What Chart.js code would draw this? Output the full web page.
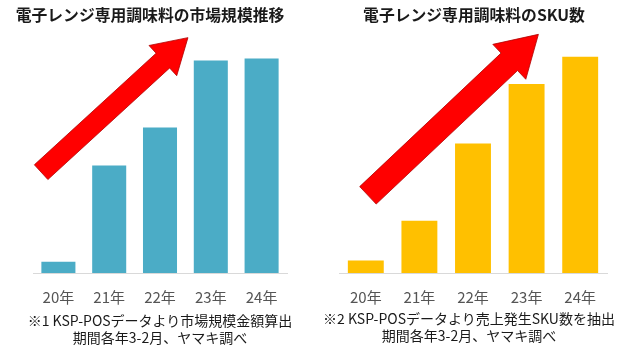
<!DOCTYPE html>
<html><head><meta charset="utf-8">
<script src="https://cdn.jsdelivr.net/npm/chart.js@4/dist/chart.umd.min.js"></script>
<style>
html,body{margin:0;padding:0;background:#fff;}
#wrap{position:relative;width:620px;height:356px;overflow:hidden;font-family:"Noto Sans CJK JP","Noto Sans",sans-serif;}
canvas{position:absolute;top:0;}
.t{position:absolute;white-space:nowrap;transform:translateX(-50%);color:#1a1a1a;}
.title{font-weight:bold;font-size:15.8px;line-height:20px;}
.note{font-size:14px;line-height:17px;text-align:center;}
</style></head><body>
<div id="wrap">
<canvas id="c1" width="310" height="356" style="left:0"></canvas>
<canvas id="c2" width="310" height="356" style="left:310px"></canvas>
<div class="t title" style="left:150px;top:5px">電子レンジ専用調味料の市場規模推移</div>
<div class="t title" style="left:474px;top:5px">電子レンジ専用調味料のSKU数</div>
<div class="t note" style="left:160px;top:312px">※1 KSP-POSデータより市場規模金額算出<br>期間各年3-2月、ヤマキ調べ</div>
<div class="t note" style="left:469px;top:310px">※2 KSP-POSデータより売上発生SKU数を抽出<br>期間各年3-2月、ヤマキ調べ</div>
</div>
<script>
const years = ["20年","21年","22年","23年","24年"];
// relative index values (24年 = 100)
const marketSize = [5.3, 50.1, 67.8, 99.1, 100];
const skuCount = [5.8, 24.1, 59.8, 87.3, 100];
// decorative arrows in data space: [categoryIndex, value]
const arrow1 = {from:[-0.34, 47], to:[2.55, 109.7]};
const arrow2 = {from:[0.04, 35.9], to:[3.22, 110.3]};

const arrowPlugin = {
  id:'arrow',
  afterDatasetsDraw(chart, args, opts){
    const {ctx, scales:{x,y}} = chart;
    const a = opts.arrow;
    const x0 = x.getPixelForValue(a.from[0]), y0 = y.getPixelForValue(a.from[1]);
    const x1 = x.getPixelForValue(a.to[0]), y1 = y.getPixelForValue(a.to[1]);
    const dx = x1-x0, dy = y1-y0, L = Math.hypot(dx,dy);
    const ux = dx/L, uy = dy/L, px = -uy, py = ux;
    const sw = opts.shaft/2, hw = opts.head/2, hl = opts.headLen;
    const bx = x1-ux*hl, by = y1-uy*hl;
    ctx.save();
    ctx.beginPath();
    ctx.moveTo(x0+px*sw, y0+py*sw);
    ctx.lineTo(bx+px*sw, by+py*sw);
    ctx.lineTo(bx+px*hw, by+py*hw);
    ctx.lineTo(x1, y1);
    ctx.lineTo(bx-px*hw, by-py*hw);
    ctx.lineTo(bx-px*sw, by-py*sw);
    ctx.lineTo(x0-px*sw, y0-py*sw);
    ctx.closePath();
    ctx.fillStyle = '#FF0000';
    ctx.fill();
    ctx.strokeStyle = '#B00000';
    ctx.lineWidth = 0.8;
    ctx.stroke();
    ctx.restore();
  }
};

function makeChart(id, data, color, pad, arrow, shaft, head, headLen){
  return new Chart(document.getElementById(id), {
    type:'bar',
    data:{labels:years, datasets:[{data:data, backgroundColor:color, borderWidth:0,
      categoryPercentage:1.0, barPercentage:0.67}]},
    options:{
      responsive:false, animation:false,
      layout:{padding:pad},
      plugins:{legend:{display:false}, tooltip:{enabled:false},
        arrow:{arrow:arrow, shaft:shaft, head:head, headLen:headLen}},
      scales:{
        x:{grid:{display:false, drawTicks:false},
           border:{display:true, color:'#D9D9D9', width:1},
           ticks:{color:'#555555', padding:15, font:{family:'"Noto Sans CJK JP"', size:15}}},
        y:{display:false, min:0, max:110}
      }
    },
    plugins:[arrowPlugin]
  });
}
makeChart('c1', marketSize, '#4BACC6', {left:33, right:23, top:37, bottom:35}, arrow1, 20, 41, 34);
makeChart('c2', skuCount, '#FFC000', {left:29, right:13, top:35, bottom:35}, arrow2, 24, 48, 40);
</script>
</body></html>
